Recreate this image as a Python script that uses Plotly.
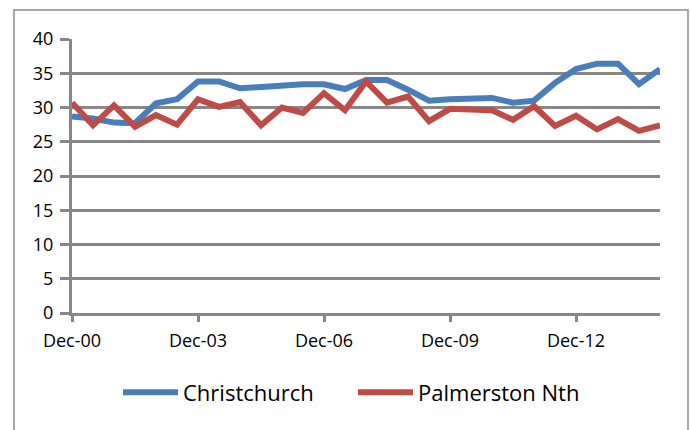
import plotly.graph_objects as go

# Half-yearly categories Dec-00 .. Dec-14
periods = ["Dec-00", "Jun-01", "Dec-01", "Jun-02", "Dec-02", "Jun-03", "Dec-03", "Jun-04",
           "Dec-04", "Jun-05", "Dec-05", "Jun-06", "Dec-06", "Jun-07", "Dec-07", "Jun-08",
           "Dec-08", "Jun-09", "Dec-09", "Jun-10", "Dec-10", "Jun-11", "Dec-11", "Jun-12",
           "Dec-12", "Jun-13", "Dec-13", "Jun-14", "Dec-14"]

christchurch = [28.7, 28.4, 27.8, 27.7, 30.6, 31.2, 33.8, 33.8, 32.8, 33.0, 33.4, 33.4, 33.4,
                32.7, 34.0, 34.0, 32.6, 31.0, 31.2, 31.4, 31.4, 30.7, 31.0, 33.6, 35.6, 36.4,
                36.4, 33.4, 35.6]

palmerston = [30.7, 27.4, 30.3, 27.2, 28.9, 27.5, 31.2, 30.1, 30.8, 27.4, 30.0, 29.2, 32.1,
              29.6, 33.8, 30.7, 31.6, 28.0, 29.8, 29.7, 29.6, 28.2, 30.2, 27.3, 28.8, 26.8,
              28.3, 26.6, 27.4]

tick_labels = ["Dec-00", "Dec-03", "Dec-06", "Dec-09", "Dec-12"]
y_ticks = [0, 5, 10, 15, 20, 25, 30, 35, 40]

FONT = "'Open Sans', Carlito, Calibri, sans-serif"
GRID = "#878787"

fig = go.Figure()
fig.add_trace(go.Scatter(x=periods, y=christchurch, mode="lines", name="Christchurch",
                         line=dict(color="#4A7EBB", width=6)))
fig.add_trace(go.Scatter(x=periods, y=palmerston, mode="lines", name="Palmerston Nth",
                         line=dict(color="#BE4B48", width=6)))

fig.update_layout(
    width=690, height=430,
    margin=dict(l=72, r=30, t=39, b=117),
    paper_bgcolor="white", plot_bgcolor="white",
    font=dict(family=FONT, color="black", size=16),
    showlegend=True,
    legend=dict(orientation="h", x=(118 - 72) / 588, xanchor="left", y=-0.29,
                yanchor="middle", font=dict(size=22), itemwidth=55, entrywidth=165,
                bgcolor="rgba(0,0,0,0)"),
    xaxis=dict(type="category", categoryorder="array", categoryarray=periods,
               range=[0, len(periods) - 1], tickmode="array", tickvals=tick_labels,
               ticktext=tick_labels, ticks="outside", ticklen=6, tickwidth=3, tickcolor=GRID,
               showline=True, linecolor=GRID, linewidth=3, showgrid=False, zeroline=False,
               tickfont=dict(size=18), ticklabelstandoff=3),
    yaxis=dict(range=[0, 40], tickmode="array", tickvals=y_ticks, ticks="outside",
               ticklen=9, tickwidth=3, tickcolor=GRID, showline=True, linecolor=GRID,
               linewidth=3, showgrid=True, gridcolor=GRID, gridwidth=3, zeroline=False,
               tickfont=dict(size=18), ticklabelstandoff=3),
    shapes=[dict(type="rect", xref="paper", yref="paper",
                 x0=(14 - 72) / 588, x1=(688 - 72) / 588,
                 y0=(312.7 - 440) / 273.7, y1=(312.7 - 10) / 273.7,
                 line=dict(color="#8c8c8c", width=1.5), fillcolor="rgba(0,0,0,0)",
                 layer="below")],
)

fig.write_html("out.html")
